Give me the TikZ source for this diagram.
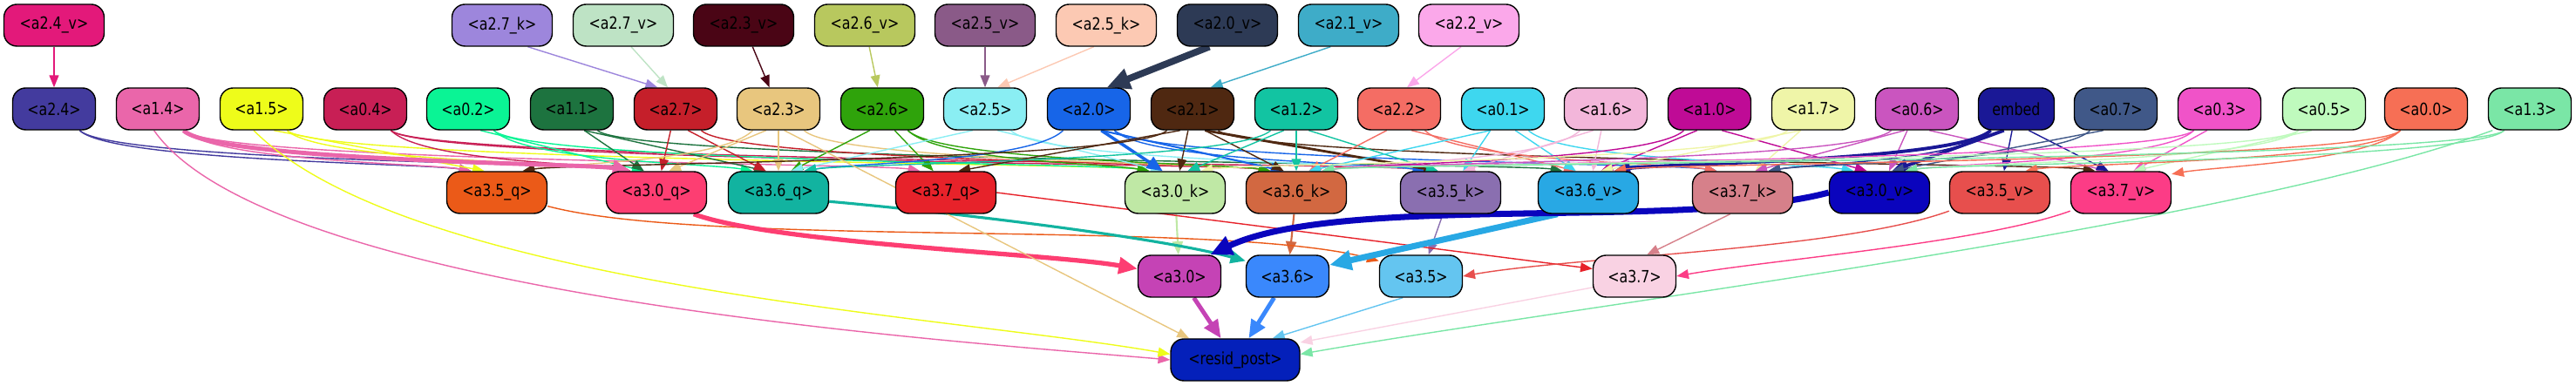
\documentclass[tikz,border=0pt]{standalone}
\usepackage{fontspec}
\setmainfont{DejaVu Sans}[FakeStretch=0.82]
\usetikzlibrary{arrows.meta}
\pgfdeclarelayer{edges}
\pgfsetlayers{edges,main}

% node colours
\definecolor{ca24v}{HTML}{E3197A}
\definecolor{ca27k}{HTML}{9D86DC}
\definecolor{ca27v}{HTML}{BEE3C5}
\definecolor{ca23v}{HTML}{4A0515}
\definecolor{ca26v}{HTML}{B8C85E}
\definecolor{ca25v}{HTML}{8A5A88}
\definecolor{ca25k}{HTML}{FCC9B3}
\definecolor{ca20v}{HTML}{2D3A55}
\definecolor{ca21v}{HTML}{3EACC8}
\definecolor{ca22v}{HTML}{FBA8EA}
\definecolor{ca24}{HTML}{433B9E}
\definecolor{ca14}{HTML}{EA66AA}
\definecolor{ca15}{HTML}{EEFC1A}
\definecolor{ca04}{HTML}{C81F55}
\definecolor{ca02}{HTML}{0AF495}
\definecolor{ca11}{HTML}{1D733F}
\definecolor{ca27}{HTML}{C51F2A}
\definecolor{ca23}{HTML}{E8C67E}
\definecolor{ca26}{HTML}{2FA30B}
\definecolor{ca25}{HTML}{8AEEF3}
\definecolor{ca20}{HTML}{1765E8}
\definecolor{ca21}{HTML}{4F2811}
\definecolor{ca12}{HTML}{12C4A2}
\definecolor{ca22}{HTML}{F46D64}
\definecolor{ca01}{HTML}{3ED7EF}
\definecolor{ca16}{HTML}{F3B6DA}
\definecolor{ca10}{HTML}{BF0B96}
\definecolor{ca17}{HTML}{EFF5A8}
\definecolor{ca06}{HTML}{CA55BF}
\definecolor{cemb}{HTML}{1A1896}
\definecolor{ca07}{HTML}{405888}
\definecolor{ca03}{HTML}{F053C8}
\definecolor{ca05}{HTML}{BFFABD}
\definecolor{ca00}{HTML}{F66F55}
\definecolor{ca13}{HTML}{7AE6A6}
\definecolor{ca35q}{HTML}{EB5A18}
\definecolor{ca30q}{HTML}{FD3E72}
\definecolor{ca36q}{HTML}{12B3A0}
\definecolor{ca37q}{HTML}{E7222A}
\definecolor{ca30k}{HTML}{BFE8A5}
\definecolor{ca36k}{HTML}{D26841}
\definecolor{ca35k}{HTML}{8A6FB0}
\definecolor{ca36v}{HTML}{28A8E4}
\definecolor{ca37k}{HTML}{D6808A}
\definecolor{ca30v}{HTML}{0A04BD}
\definecolor{ca35v}{HTML}{E74F4D}
\definecolor{ca37v}{HTML}{FC3C86}
\definecolor{ca30}{HTML}{C543B5}
\definecolor{ca36}{HTML}{3A88FC}
\definecolor{ca35}{HTML}{64C5F0}
\definecolor{ca37}{HTML}{F9D2E3}
\definecolor{cres}{HTML}{0420BA}

\tikzset{
  box/.style={draw, rounded corners=1.5mm, minimum height=4.8mm, inner sep=0pt, line width=0.4pt, font=\fontsize{5.5}{7}\selectfont},
  wbox/.style={box, minimum width=11.5mm},
  nbox/.style={box, minimum width=9.5mm},
  e/.style={draw=#1, line width=0.4pt, -{Triangle[length=1.1mm 2, width=0.8mm 2]}},
  far/.style={out=-45, in=170, distance=0.5cm},
  farl/.style={out=-135, in=10, distance=0.5cm},
}

\begin{document}
\begin{tikzpicture}
\useasboundingbox (0,0) rectangle (29.55,4.43);

% top row
\node[wbox, fill=ca24v] (a24v) at (0.62,4.14) {<a2.4\_v>};
\node[wbox, fill=ca27k] (a27k) at (5.76,4.14) {<a2.7\_k>};
\node[wbox, fill=ca27v] (a27v) at (7.15,4.14) {<a2.7\_v>};
\node[wbox, fill=ca23v] (a23v) at (8.53,4.14) {<a2.3\_v>};
\node[wbox, fill=ca26v] (a26v) at (9.92,4.14) {<a2.6\_v>};
\node[wbox, fill=ca25v] (a25v) at (11.30,4.14) {<a2.5\_v>};
\node[wbox, fill=ca25k] (a25k) at (12.69,4.14) {<a2.5\_k>};
\node[wbox, fill=ca20v] (a20v) at (14.08,4.14) {<a2.0\_v>};
\node[wbox, fill=ca21v] (a21v) at (15.47,4.14) {<a2.1\_v>};
\node[wbox, fill=ca22v] (a22v) at (16.85,4.14) {<a2.2\_v>};

% second row
\node[nbox, fill=ca24] (a24) at (0.62,3.18) {<a2.4>};
\node[nbox, fill=ca14] (a14) at (1.81,3.18) {<a1.4>};
\node[nbox, fill=ca15] (a15) at (3.00,3.18) {<a1.5>};
\node[nbox, fill=ca04] (a04) at (4.19,3.18) {<a0.4>};
\node[nbox, fill=ca02] (a02) at (5.37,3.18) {<a0.2>};
\node[nbox, fill=ca11] (a11) at (6.56,3.18) {<a1.1>};
\node[nbox, fill=ca27] (a27) at (7.75,3.18) {<a2.7>};
\node[nbox, fill=ca23] (a23) at (8.93,3.18) {<a2.3>};
\node[nbox, fill=ca26] (a26) at (10.12,3.18) {<a2.6>};
\node[nbox, fill=ca25] (a25) at (11.30,3.18) {<a2.5>};
\node[nbox, fill=ca20] (a20) at (12.49,3.18) {<a2.0>};
\node[nbox, fill=ca21] (a21) at (13.68,3.18) {<a2.1>};
\node[nbox, fill=ca12] (a12) at (14.87,3.18) {<a1.2>};
\node[nbox, fill=ca22] (a22) at (16.05,3.18) {<a2.2>};
\node[nbox, fill=ca01] (a01) at (17.24,3.18) {<a0.1>};
\node[nbox, fill=ca16] (a16) at (18.42,3.18) {<a1.6>};
\node[nbox, fill=ca10] (a10) at (19.61,3.18) {<a1.0>};
\node[nbox, fill=ca17] (a17) at (20.80,3.18) {<a1.7>};
\node[nbox, fill=ca06] (a06) at (21.99,3.18) {<a0.6>};
\node[box, minimum width=8.7mm, fill=cemb] (emb) at (23.13,3.18) {embed};
\node[nbox, fill=ca07] (a07) at (24.27,3.18) {<a0.7>};
\node[nbox, fill=ca03] (a03) at (25.46,3.18) {<a0.3>};
\node[nbox, fill=ca05] (a05) at (26.66,3.18) {<a0.5>};
\node[nbox, fill=ca00] (a00) at (27.83,3.18) {<a0.0>};
\node[nbox, fill=ca13] (a13) at (29.02,3.18) {<a1.3>};

% third row
\node[wbox, fill=ca35q] (a35q) at (5.70,2.22) {<a3.5\_q>};
\node[wbox, fill=ca30q] (a30q) at (7.53,2.22) {<a3.0\_q>};
\node[wbox, fill=ca36q] (a36q) at (8.93,2.22) {<a3.6\_q>};
\node[wbox, fill=ca37q] (a37q) at (10.85,2.22) {<a3.7\_q>};
\node[wbox, fill=ca30k] (a30k) at (13.48,2.22) {<a3.0\_k>};
\node[wbox, fill=ca36k] (a36k) at (14.87,2.22) {<a3.6\_k>};
\node[wbox, fill=ca35k] (a35k) at (16.64,2.22) {<a3.5\_k>};
\node[wbox, fill=ca36v] (a36v) at (18.22,2.22) {<a3.6\_v>};
\node[wbox, fill=ca37k] (a37k) at (19.99,2.22) {<a3.7\_k>};
\node[wbox, fill=ca30v] (a30v) at (21.56,2.22) {<a3.0\_v>};
\node[wbox, fill=ca35v] (a35v) at (22.94,2.22) {<a3.5\_v>};
\node[wbox, fill=ca37v] (a37v) at (24.33,2.22) {<a3.7\_v>};

% fourth row
\node[nbox, fill=ca30] (a30) at (13.53,1.26) {<a3.0>};
\node[nbox, fill=ca36] (a36) at (14.77,1.26) {<a3.6>};
\node[nbox, fill=ca35] (a35) at (16.30,1.26) {<a3.5>};
\node[nbox, fill=ca37] (a37) at (18.75,1.26) {<a3.7>};

\node[box, minimum width=14.8mm, fill=cres] (res) at (14.17,0.30) {<resid\_post>};

\begin{pgfonlayer}{edges}
% top row to second row
\draw[e=ca24v] (a24v) -- (a24);
\draw[e=ca27k] (a27k.-40) -- (a27.130);
\draw[e=ca27v] (a27v.-70) -- (a27.110);
\draw[e=ca23v] (a23v) -- (a23);
\draw[e=ca26v] (a26v) -- (a26);
\draw[e=ca25v] (a25v) -- (a25);
\draw[e=ca25k] (a25k.-120) -- (a25.60);
\draw[e=ca21v] (a21v.-130) -- (a21.50);
\draw[e=ca22v] (a22v.-110) -- (a22.70);
\draw[e=ca20v, line width=2.2pt] (a20v.-130) -- (a20.50);

% second row to third row
\draw[e=ca24] (a24.-40) to[far] (a35q.140);
\draw[e=ca24] (a24.-40) to[far] (a30q.140);
\draw[e=ca14] (a14.-40) to[far] (a35q.140);
\draw[e=ca14] (a14.-40) to[far] (a37q.140);
\draw[e=ca15] (a15.-60) -- (a35q.120);
\draw[e=ca15] (a15.-40) to[far] (a30q.140);
\draw[e=ca15] (a15.-40) to[far] (a30k.140);
\draw[e=ca04] (a04.-40) to[far] (a30q.140);
\draw[e=ca04] (a04.-40) to[far] (a36k.140);
\draw[e=ca04] (a04.-40) to[far] (a35k.140);
\draw[e=ca02] (a02.-60) -- (a30q.120);
\draw[e=ca02] (a02.-40) to[far] (a36q.140);
\draw[e=ca02] (a02.-40) to[far] (a30k.140);
\draw[e=ca11] (a11.-60) -- (a30q.120);
\draw[e=ca11] (a11.-60) -- (a36q.120);
\draw[e=ca11] (a11.-40) to[far] (a36v.140);
\draw[e=ca27] (a27) -- (a30q);
\draw[e=ca27] (a27.-60) -- (a36q.120);
\draw[e=ca27] (a27.-40) to[far] (a36k.140);
\draw[e=ca23] (a23) -- (a36q);
\draw[e=ca23] (a23.-120) -- (a30q.60);
\draw[e=ca23] (a23.-140) to[farl] (a35q.40);
\draw[e=ca23] (a23.-40) to[far] (a36k.140);
\draw[e=ca26] (a26.-120) -- (a36q.60);
\draw[e=ca26] (a26.-60) -- (a37q.120);
\draw[e=ca26] (a26.-40) to[far] (a30k.140);
\draw[e=ca26] (a26.-40) to[far] (a36k.140);
\draw[e=ca25] (a25.-120) -- (a36q.60);
\draw[e=ca25] (a25.-60) -- (a30k.120);
\draw[e=ca25] (a25.-40) to[far] (a35k.140);
\draw[e=ca20] (a20.-140) to[farl] (a36q.40);
\draw[e=ca20, line width=0.6pt] (a20.-60) -- (a36k.120);
\draw[e=ca20] (a20.-40) to[far] (a35k.140);
\draw[e=ca20] (a20.-40) to[far] (a37k.140);
\draw[e=ca20, line width=1pt] (a20.-60) -- (a30k.120);
\draw[e=ca21] (a21.-140) to[farl] (a35q.40);
\draw[e=ca21] (a21.-120) -- (a37q.60);
\draw[e=ca21] (a21) -- (a30k);
\draw[e=ca21] (a21.-60) -- (a36k.120);
\draw[e=ca21] (a21.-40) to[far] (a37v.140);
\draw[e=ca21, line width=0.8pt] (a21.-60) -- (a35k.120);
\draw[e=ca12] (a12.-140) to[farl] (a36q.40);
\draw[e=ca12] (a12.-120) -- (a30k.60);
\draw[e=ca12] (a12) -- (a36k);
\draw[e=ca12] (a12.-60) -- (a35k.120);
\draw[e=ca22] (a22.-120) -- (a36k.60);
\draw[e=ca22] (a22.-60) -- (a36v.120);
\draw[e=ca22] (a22.-40) to[far] (a37k.140);
\draw[e=ca01] (a01.-120) -- (a35k.60);
\draw[e=ca01] (a01.-60) -- (a36v.120);
\draw[e=ca01] (a01.-120) -- (a36k.60);
\draw[e=ca01] (a01.-40) to[far] (a30v.140);
\draw[e=ca16] (a16) -- (a36v);
\draw[e=ca16] (a16.-120) -- (a35k.60);
\draw[e=ca16] (a16.-140) to[farl] (a36k.40);
\draw[e=ca10] (a10.-120) -- (a36v.60);
\draw[e=ca10] (a10.-60) -- (a30v.120);
\draw[e=ca10] (a10.-140) to[farl] (a36k.40);
\draw[e=ca17] (a17.-120) -- (a37k.60);
\draw[e=ca17] (a17.-120) -- (a36v.60);
\draw[e=ca17] (a17.-140) to[farl] (a30k.40);
\draw[e=ca06] (a06) -- (a30v);
\draw[e=ca06] (a06.-120) -- (a37k.60);
\draw[e=ca06] (a06.-140) to[farl] (a36k.40);
\draw[e=ca06] (a06.-60) -- (a37v.120);
\draw[e=cemb] (emb) -- (a35v);
\draw[e=cemb] (emb.-60) -- (a37v.120);
\draw[e=cemb] (emb.-140) to[farl] (a37k.40);
\draw[e=cemb, line width=1.1pt] (emb.-140) to[farl] (a36v.40);
\draw[e=cemb, line width=1.1pt] (emb.-120) -- (a30v.60);
\draw[e=ca07] (a07.-140) to[farl] (a37k.40);
\draw[e=ca07] (a07.-120) -- (a30v.60);
\draw[e=ca03] (a03.-120) -- (a37v.60);
\draw[e=ca03] (a03.-140) to[farl] (a30v.40);
\draw[e=ca03] (a03.-140) to[farl] (a36k.40);
\draw[e=ca05] (a05.-120) -- (a37v.60);
\draw[e=ca05] (a05.-140) to[farl] (a30v.40);
\draw[e=ca05] (a05.-140) to[farl] (a36k.40);
\draw[e=ca00] (a00.-140) to[farl] (a37v.20);
\draw[e=ca00] (a00.-140) to[farl] (a35v.40);
\draw[e=ca00] (a00.-140) to[farl] (a36v.40);
\draw[e=ca13] (a13.-140) to[farl] (a30v.40);
\draw[e=ca13] (a13.-140) to[farl] (a36k.40);
\draw[e=ca14, line width=1.4pt] (a14.-40) to[far] (a30q.140);

% third row to fourth row
\draw[e=ca30k, line width=0.6pt] (a30k) -- (a30);
\draw[e=ca36k, line width=0.6pt] (a36k) -- (a36);
\draw[e=ca35k] (a35k) -- (a35);
\draw[e=ca35q] (a35q.-15) to[out=-15, in=165, looseness=0.5] (a35.160);
\draw[e=ca37q] (a37q.east) -- (a37.170);
\draw[e=ca37k] (a37k.-120) -- (a37.60);
\draw[e=ca35v] (a35v.-160) to[out=-160, in=10, looseness=0.6] (a35.east);
\draw[e=ca37v] (a37v.-160) to[out=-160, in=10, looseness=0.6] (a37.east);
\draw[e=ca36q, line width=0.9pt] (a36q.-10) to[out=-5, in=165, looseness=0.6] (a36.160);
\draw[e=ca30q, line width=1.5pt] (a30q.-30) to[out=-20, in=170, looseness=0.5] (a30.170);
\draw[e=ca36v, line width=2pt] (a36v.-145) -- (a36.15);
\draw[e=ca30v, line width=2pt] (a30v.west) to[out=195, in=25, looseness=0.6] (a30.35);

% into resid_post
\draw[e=ca14] (a14.-100) to[out=-55, in=175, looseness=0.5] (res.west);
\draw[e=ca15] (a15.-110) to[out=-45, in=170, looseness=0.6] (res.175);
\draw[e=ca23] (a23.-75) -- (res.155);
\draw[e=ca13] (a13.-150) to[out=-160, in=10, looseness=0.6] (res.5);
\draw[e=ca35] (a35.-130) -- (res.30);
\draw[e=ca37] (a37.-165) -- (res.15);
\draw[e=ca30, line width=1.4pt] (a30) -- (res);
\draw[e=ca36, line width=1.4pt] (a36) -- (res);
\end{pgfonlayer}
\end{tikzpicture}
\end{document}
